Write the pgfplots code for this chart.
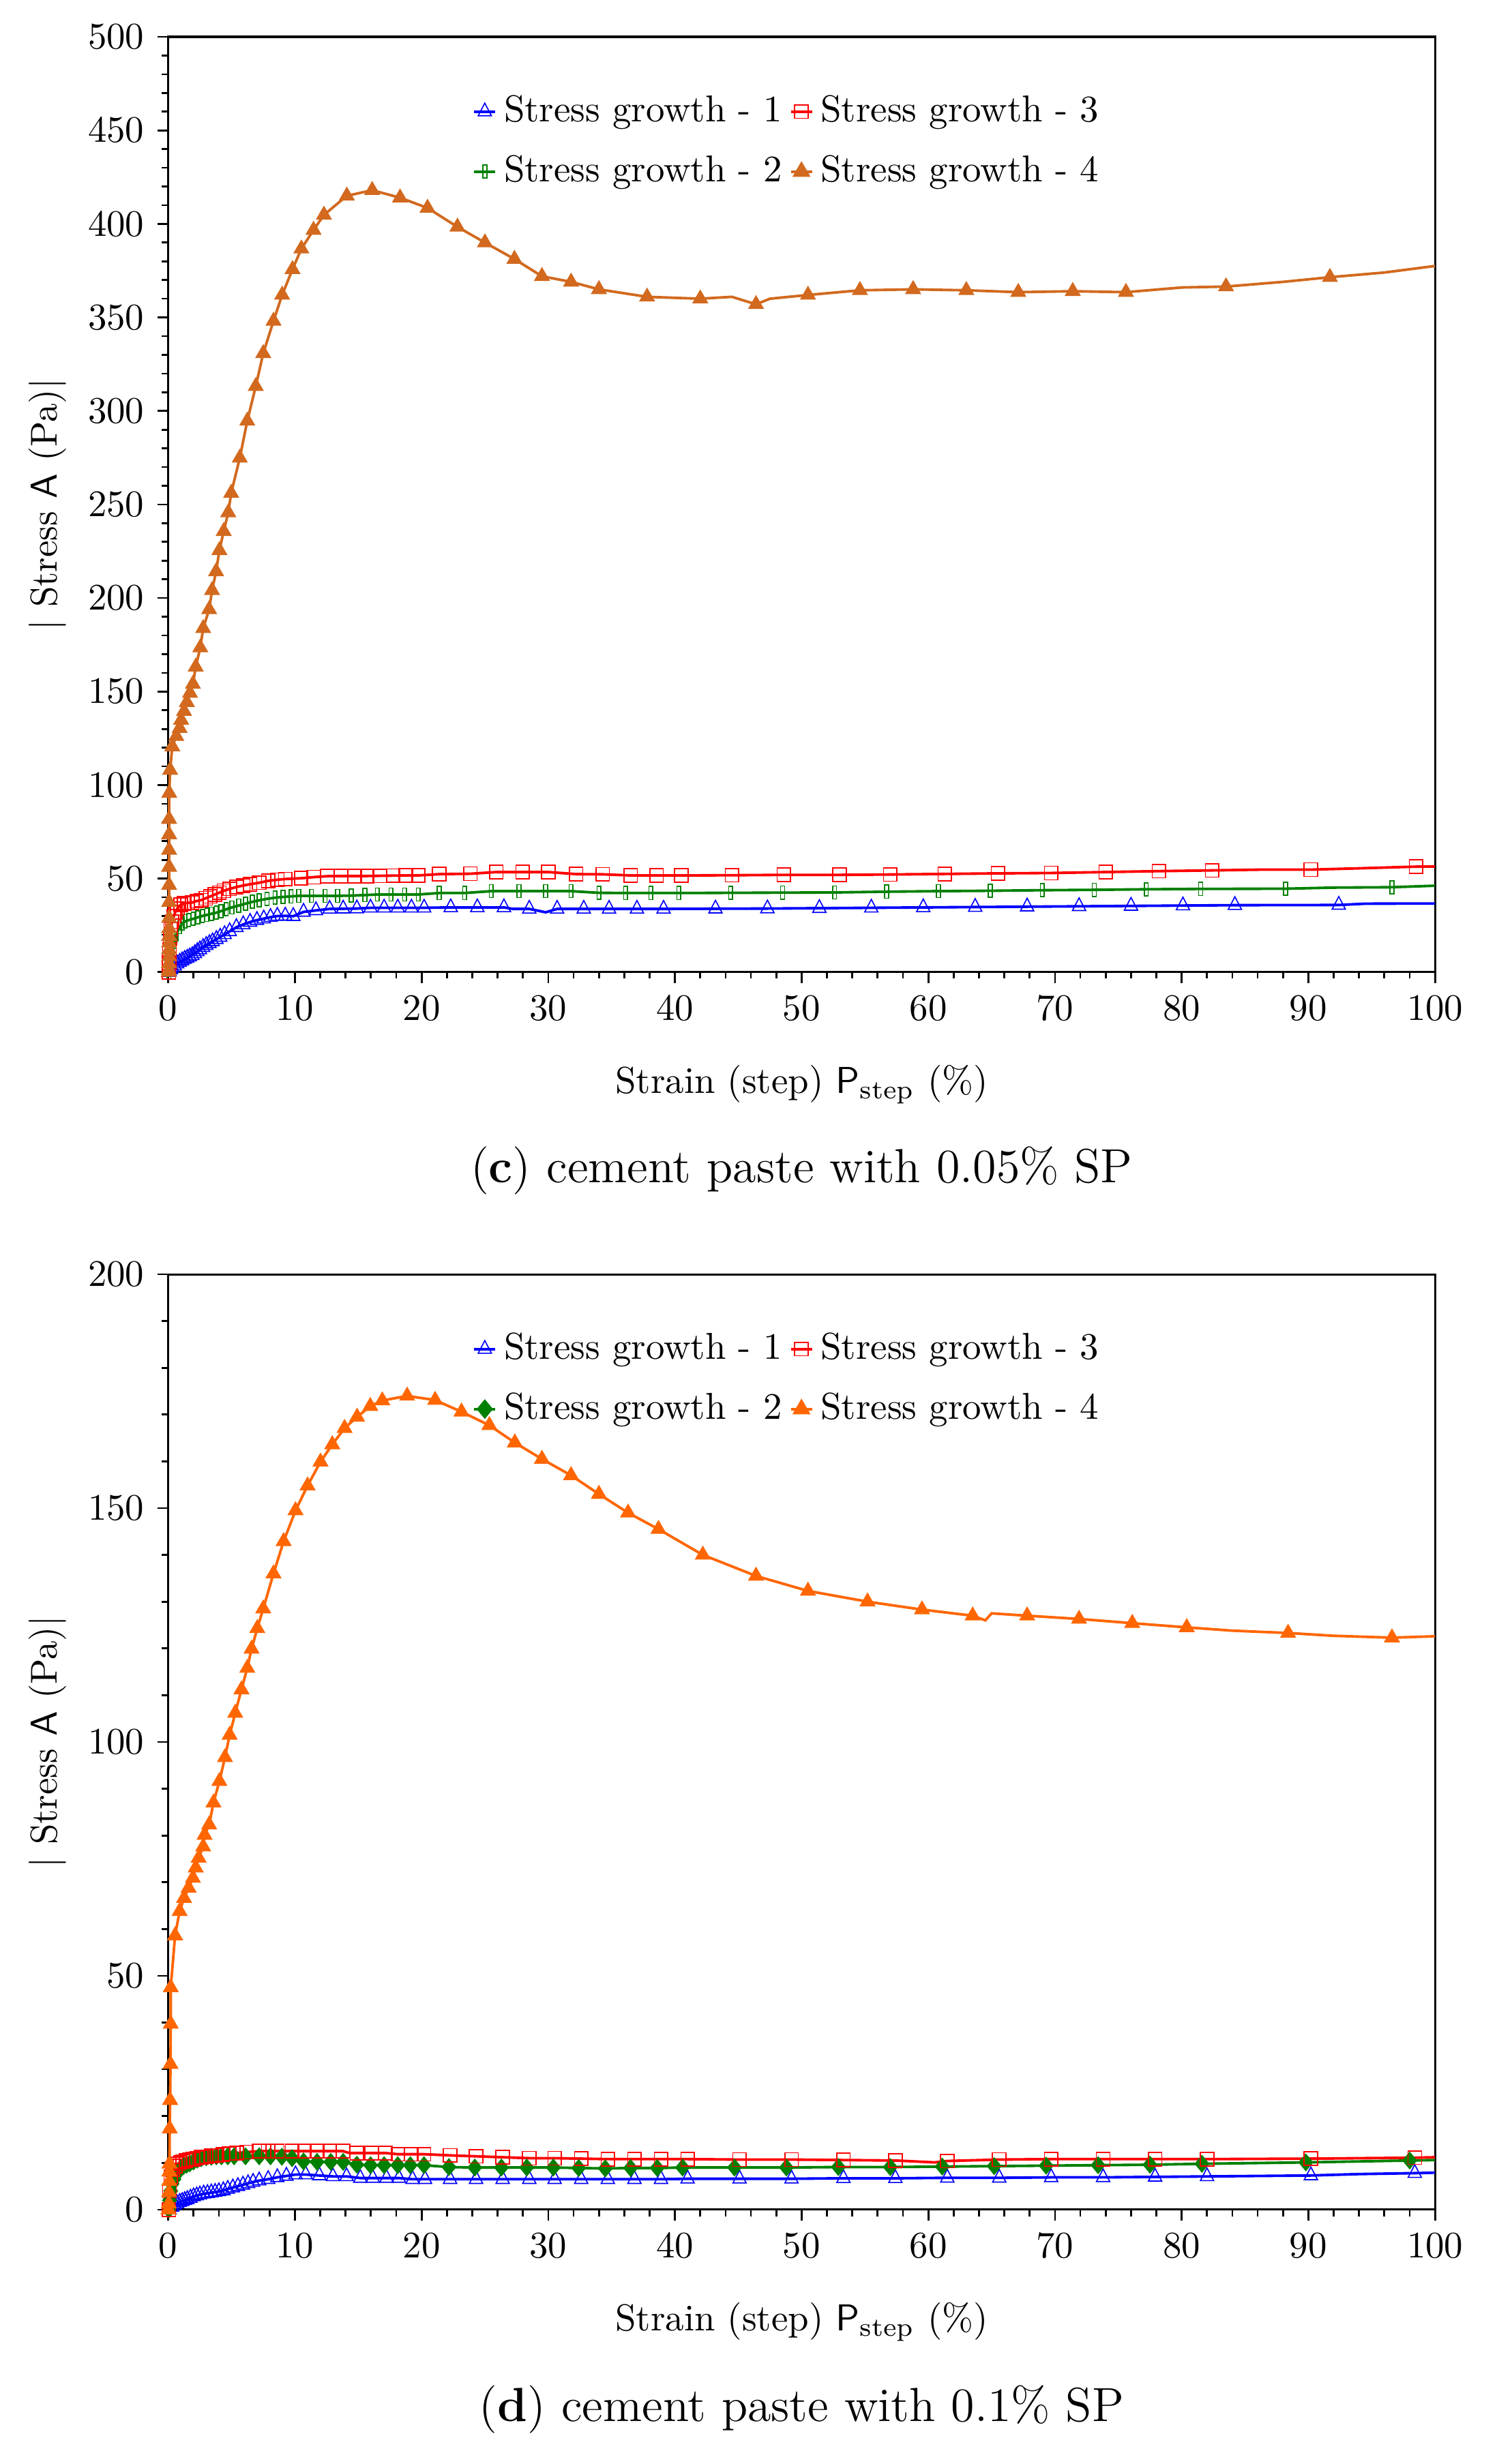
\documentclass[border=0pt]{standalone}
\usepackage{pgfplots}
\pgfplotsset{compat=1.18}
\usepackage{pgfplotstable}

\definecolor{sgblue}{RGB}{0,0,255}
\definecolor{sgred}{RGB}{255,0,0}
\definecolor{sggreen}{RGB}{0,128,0}
\definecolor{sgbrown}{RGB}{210,105,30}
\definecolor{sgorange}{RGB}{255,102,0}

% columns: strain, stress, m = 1 where the curve carries a marker
\pgfplotstableread{
x y m
0.05 0 1
0.1 0.5 1
0.2 1.5 1
0.3 2.5 1
0.5 3.5 1
0.7 4.6 1
0.9 5.4 1
1.1 6.2 1
1.3 7.0 1
1.5 7.6 1
1.7 8.3 1
1.9 9.0 1
2.1 10.0 1
2.3 11.1 1
2.5 12.1 1
2.75 13.3 1
3.0 14.4 1
3.25 15.4 1
3.5 16.4 1
3.8 17.6 1
4.1 18.8 1
4.45 20.2 1
4.85 21.8 1
5.38 24.0 1
5.92 25.5 1
6.46 26.8 1
7.0 27.8 1
7.54 28.6 1
8.07 29.4 1
8.61 30.0 1
9.24 30.1 1
9.87 29.9 1
10.68 32.2 1
11.66 33.0 1
12.74 33.8 1
13.81 33.9 1
14.89 34.0 1
15.97 34.4 1
17.04 34.4 1
18.12 34.4 1
19.2 34.4 1
20.2 34.4 1
22.3 34.6 1
24.4 34.6 1
26.5 34.6 1
27.2 33.8 0
28.5 33.8 1
29.8 32.0 0
30.7 33.8 1
32.8 33.8 1
34.8 33.8 1
37.0 33.8 1
39.1 33.8 1
43.2 33.9 1
47.3 34.0 1
51.4 34.2 1
55.5 34.4 1
59.6 34.6 1
63.7 34.8 1
67.8 35.0 1
71.9 35.2 1
76.0 35.4 1
80.1 35.6 1
84.2 35.8 1
92.4 35.9 1
94.5 36.6 0
100 36.7 0
}\topblue

\pgfplotstableread{
x y m
0.05 0 1
0.1 3 1
0.2 8 1
0.3 12 1
0.45 16 1
0.63 20 1
0.90 24 1
1.11 26 1
1.35 27.2 1
1.61 27.8 1
1.97 28.5 1
2.33 29.3 1
2.69 30.0 1
3.05 30.6 1
3.41 31.2 1
3.80 31.8 1
4.16 32.6 1
4.58 33.6 1
5.02 34.6 1
5.56 35.6 1
6.10 36.6 1
6.64 37.6 1
7.18 38.4 1
7.80 39.2 1
8.43 39.8 1
9.06 40.2 1
9.69 40.5 1
10.31 40.8 1
11.30 40.8 1
12.38 40.8 1
13.37 40.8 1
14.44 40.9 1
15.52 41.2 1
16.51 41.5 1
17.58 41.5 1
18.66 41.5 1
19.74 41.5 1
21.4 42.3 1
23.4 42.3 1
25.5 43.3 1
27.7 43.3 1
29.8 43.3 1
31.8 43.3 1
34.0 42.4 1
36.1 42.3 1
38.1 42.3 1
40.3 42.3 1
44.4 42.4 1
48.5 42.5 1
52.6 42.6 1
56.7 43.0 1
60.8 43.3 1
64.9 43.5 1
69.0 43.8 1
73.1 44.0 1
77.2 44.3 1
81.5 44.5 1
88.2 44.6 1
92.0 45.2 0
96.6 45.4 1
100 46.2 0
}\topgreen

\pgfplotstableread{
x y m
0.05 0 1
0.08 5 1
0.1 12 1
0.15 18 1
0.2 23 1
0.3 27 1
0.45 30 1
0.55 32 1
0.72 34 1
0.99 36 1
1.25 36.8 1
1.52 37.0 1
1.88 37.2 1
2.24 38.0 1
2.60 38.5 1
2.96 39.5 1
3.32 40.5 1
3.68 41.5 1
4.04 42.5 1
4.39 43.5 1
4.85 44.5 1
5.38 45.5 1
5.92 46.3 1
6.46 47.0 1
7.18 47.8 1
7.89 48.8 1
8.61 49.4 1
9.24 49.8 1
10.50 50.2 1
11.48 50.8 1
12.56 51.3 1
13.63 51.4 1
14.71 51.4 1
15.70 51.4 1
16.69 51.5 1
17.76 51.6 1
18.75 51.7 1
19.74 51.7 1
21.4 52.4 1
23.85 52.6 1
25.9 53.5 1
27.97 53.5 1
30.0 53.5 1
32.2 52.4 1
34.3 52.3 1
36.5 51.7 1
38.55 51.7 1
40.5 51.7 1
44.5 51.8 1
48.6 52.0 1
53.0 52.0 1
57.0 52.2 1
61.3 52.5 1
65.5 52.8 1
69.7 53.0 1
74.0 53.5 1
78.2 54.0 1
82.4 54.4 1
86.3 54.8 0
90.2 54.8 1
94.0 55.5 0
98.5 56.4 1
100 56.5 0
}\topred

\pgfplotstableread{
x y m
0.03 0 1
0.05 1 1
0.06 4.7 1
0.06 8.4 1
0.07 12 1
0.07 15.7 1
0.07 19.3 1
0.07 23.4 1
0.07 28.9 1
0.07 37.4 1
0.07 46.5 1
0.07 56.2 1
0.07 65.3 1
0.07 73.6 1
0.07 81.8 1
0.08 95.7 1
0.15 108 1
0.32 120.6 1
0.64 126.1 1
0.90 130.4 1
1.02 134.8 1
1.25 139.5 1
1.47 144.3 1
1.72 149.2 1
1.95 154 1
2.17 163.2 1
2.53 173.5 1
2.76 183.8 1
3.23 193.9 1
3.46 204.1 1
3.78 214.2 1
4.04 225.5 1
4.38 235.7 1
4.74 245.7 1
4.97 256.1 1
5.65 274.9 1
6.24 294.7 1
6.91 313.2 1
7.50 330.8 1
8.31 348.1 1
8.99 362 1
9.81 375.7 1
10.51 386.7 1
11.47 396.7 1
12.29 404.8 1
14.10 415 1
16.10 418 1
18.30 414 1
20.47 408.5 1
22.83 398.4 1
25.0 390 1
27.33 381.2 1
29.5 372 1
31.8 369 1
34.0 365 1
37.8 361 1
42.0 360 1
44.5 361 0
46.4 357 1
47.5 360 0
50.5 362 1
54.6 364.5 1
58.8 365 1
63.0 364.5 1
67.1 363.5 1
71.4 364 1
75.6 363.5 1
80.0 366 0
83.5 366.5 1
88.0 369 0
91.7 371.5 1
96.0 374 0
100 377.5 0
}\toporange

\pgfplotstableread{
x y m
0.1 0 1
0.3 0.6 1
0.5 1.0 1
0.7 1.3 1
0.9 1.6 1
1.1 1.8 1
1.3 2.0 1
1.5 2.2 1
1.75 2.5 1
2.0 2.8 1
2.25 3.0 1
2.5 3.2 1
2.8 3.4 1
3.1 3.5 1
3.4 3.65 1
3.7 3.75 1
4.0 3.9 1
4.35 4.1 1
4.7 4.4 1
5.1 4.7 1
5.5 5.0 1
5.9 5.3 1
6.3 5.6 1
6.7 5.9 1
7.18 6.2 1
7.89 6.5 1
8.61 6.9 1
9.33 7.2 1
10.05 7.5 1
10.85 7.5 1
11.93 7.3 1
13.0 7.1 1
14.08 7.1 1
15.16 6.75 1
16.15 6.75 1
17.23 6.75 1
18.21 6.75 1
19.29 6.5 1
20.27 6.5 1
22.25 6.5 1
24.3 6.5 1
26.4 6.5 1
28.5 6.5 1
30.5 6.5 1
32.6 6.5 1
34.7 6.5 1
36.8 6.5 1
38.9 6.5 1
41.0 6.6 1
45.1 6.6 1
49.2 6.6 1
53.3 6.7 1
57.4 6.7 1
61.5 6.8 1
65.6 6.8 1
69.7 6.9 1
73.8 6.9 1
77.9 7.0 1
82.0 7.1 1
90.2 7.3 1
94.0 7.6 0
98.4 7.8 1
100 7.9 0
}\botblue

\pgfplotstableread{
x y m
0.05 0 1
0.1 2 1
0.2 4 1
0.3 5.5 1
0.45 6.5 1
0.6 7.5 1
0.8 8.3 1
1.0 8.8 1
1.2 9.3 1
1.45 9.6 1
1.7 9.9 1
2.0 10.3 1
2.3 10.7 1
2.6 11.0 1
3.0 11.2 1
3.4 11.3 1
3.8 11.4 1
4.2 11.4 1
4.7 11.4 1
5.2 11.4 1
6.1 11.4 1
7.18 11.4 1
8.07 11.4 1
8.97 11.3 1
9.78 11.0 1
10.68 10.3 1
11.75 10.2 1
12.83 10.2 1
13.81 10.2 1
14.89 9.6 1
15.97 9.5 1
17.04 9.5 1
18.12 9.5 1
19.11 9.5 1
20.19 9.5 1
22.16 9.1 1
24.2 9.0 1
26.3 9.0 1
28.3 9.0 1
30.4 9.0 1
32.4 8.9 1
34.5 8.8 1
36.5 8.9 1
38.6 8.9 1
40.6 9.0 1
44.7 9.0 1
48.8 9.0 1
52.9 9.1 1
57.0 9.1 1
61.1 9.2 1
65.2 9.3 1
69.3 9.4 1
73.4 9.5 1
77.5 9.6 1
81.6 9.8 1
89.8 10.1 1
98.0 10.5 1
100 10.6 0
}\botgreen

\pgfplotstableread{
x y m
0.05 0 1
0.1 4 1
0.2 7 1
0.35 8.5 1
0.55 9.3 1
0.75 9.8 1
0.95 10.1 1
1.15 10.3 1
1.4 10.5 1
1.65 10.7 1
1.95 10.8 1
2.25 11.0 1
2.6 11.2 1
3.0 11.3 1
3.4 11.5 1
3.85 11.6 1
4.3 11.8 1
4.8 12.0 1
5.4 12.1 1
6.19 12.3 1
7.18 12.5 1
7.89 12.5 1
8.61 12.5 1
9.78 12.5 1
10.77 12.5 1
11.75 12.5 1
12.74 12.5 1
13.81 12.5 1
14.3 12.1 0
14.89 12.1 1
16.06 12.1 1
17.13 12.1 1
18.12 11.85 1
19.2 11.85 1
20.19 11.85 1
22.25 11.6 1
24.3 11.4 1
26.4 11.2 1
28.5 11.0 1
30.5 11.0 1
32.6 10.9 1
34.7 10.8 1
36.8 10.8 1
38.9 10.8 1
41.0 10.8 1
45.1 10.7 1
49.2 10.7 1
53.3 10.6 1
57.4 10.5 1
60.5 10.1 0
61.5 10.4 1
65.6 10.7 1
69.7 10.8 1
73.8 10.8 1
77.9 10.8 1
82.0 10.8 1
90.2 10.9 1
98.4 11.1 1
100 11.2 0
}\botred

\pgfplotstableread{
x y m
0.02 0 1
0.05 1.3 1
0.07 3.7 1
0.08 6.1 1
0.09 8.1 1
0.1 9.8 1
0.12 17.3 1
0.15 23.4 1
0.18 31.1 1
0.2 39.7 1
0.2 47.5 1
0.54 58.6 1
0.90 63.8 1
1.25 66.6 1
1.61 68.8 1
1.95 70.9 1
2.17 73.1 1
2.40 75.2 1
2.76 77.6 1
2.87 80.1 1
3.23 82.3 1
3.57 87 1
4.04 91.6 1
4.48 96.7 1
4.85 101.5 1
5.29 106.2 1
5.78 111.2 1
6.24 115.8 1
6.58 119.9 1
7.03 124.3 1
7.50 128.5 1
8.31 136 1
9.11 142.9 1
10.05 149.5 1
11.0 154.8 1
12.02 159.9 1
12.95 163.6 1
13.92 167.1 1
14.91 169.5 1
15.95 171.8 1
16.9 173 1
18.86 174 1
21.07 173.1 1
23.15 170.6 1
25.35 167.7 1
27.36 164 1
29.5 160.5 1
31.8 157 1
34.0 153 1
36.3 149 1
38.7 145.5 1
42.2 140 1
46.4 135.5 1
50.5 132.3 1
55.2 130 1
59.5 128.3 1
63.5 127 1
64.5 126 0
65.0 127.5 0
67.8 127 1
71.9 126.3 1
76.1 125.4 1
80.4 124.5 1
84.0 123.8 0
88.4 123.3 1
92.0 122.7 0
96.6 122.3 1
100 122.6 0
}\botorange

\pgfplotsset{
  sgaxis/.style={
    scale only axis, width=338.5pt, height=250pt,
    xmin=0, xmax=100, ymin=0,
    xtick={0,10,...,100},
    minor x tick num=4, minor y tick num=4,
    tick align=outside, tick pos=left,
    major tick length=2.9pt, minor tick length=1.75pt,
    tick style={black, line width=0.5pt},
    axis line style={line width=0.55pt},
    clip=false,
    xlabel={Strain (step)\ \textsf{P}\textsubscript{step}\ (\%)},
    ylabel={| Stress \textsf{A} (Pa)|},
    xlabel style={at={(axis description cs:0.5,-0.12)}, anchor=center},
    ylabel style={at={(axis description cs:-0.095,0.5)}, anchor=center},
    legend columns=2, legend cell align=left,
    legend style={draw=none, fill=none, inner sep=0pt, row sep=3.5pt,
      at={(axis description cs:0.24,0.946)}, anchor=north west},
    legend image code/.code={
      \draw[mark repeat=2,mark phase=2] plot coordinates {(0pt,0pt) (2.8pt,0pt) (5.6pt,0pt)};},
  },
  sgline/.style={line width=0.7pt},
}

% one curve: the line through every point, the marks only where m = 1
\newcommand{\sgcurve}[3]{%
  \addplot[#1, sgline, no marks, forget plot] table[x=x, y=y] {#3};
  \addplot[#1, only marks, #2, forget plot] table[x=x, y expr={\thisrow{m}>0 ? \thisrow{y} : nan}] {#3};
}

\begin{document}
\begin{tikzpicture}
\useasboundingbox (0,0) rectangle (400pt,-658.6pt);

\begin{axis}[sgaxis, name=top, at={(44.95pt,-9.84pt)}, anchor=north west,
  ymax=500, ytick={0,50,...,500}]
  \sgcurve{sgblue}{mark=triangle, mark size=2.05pt, mark options={solid, line width=0.3pt, yscale=1.1}}{\topblue}
  \sgcurve{sggreen}{mark=square, mark size=1.75pt, mark options={solid, line width=0.3pt, xscale=0.3}}{\topgreen}
  \sgcurve{sgred}{mark=square, mark size=1.8pt, mark options={solid, line width=0.3pt}}{\topred}
  \sgcurve{sgbrown}{mark=triangle*, mark size=2.1pt, mark options={solid}}{\toporange}
  \addlegendimage{sgblue, sgline, mark=triangle, mark size=2.05pt, mark options={solid, line width=0.3pt, yscale=1.1}}
  \addlegendentry{Stress growth - 1}
  \addlegendimage{sgred, sgline, mark=square, mark size=1.8pt, mark options={solid, line width=0.3pt}}
  \addlegendentry{Stress growth - 3}
  \addlegendimage{sggreen, sgline, mark=square, mark size=1.75pt, mark options={solid, line width=0.3pt, xscale=0.3}}
  \addlegendentry{Stress growth - 2}
  \addlegendimage{sgbrown, sgline, mark=triangle*, mark size=2.1pt}
  \addlegendentry{Stress growth - 4}
\end{axis}
\node[font=\fontsize{12.8}{15}\selectfont] at ([yshift=-53.1pt]top.south) {(\textbf{c}) cement paste with 0.05\% SP};

\begin{axis}[sgaxis, name=bot, at={(44.95pt,-340.6pt)}, anchor=north west,
  ymax=200, ytick={0,50,...,200}]
  \sgcurve{sgblue}{mark=triangle, mark size=2.05pt, mark options={solid, line width=0.3pt, yscale=1.1}}{\botblue}
  \sgcurve{sggreen}{mark=diamond*, mark size=2.1pt, mark options={solid, xscale=1.1}}{\botgreen}
  \sgcurve{sgred}{mark=square, mark size=1.8pt, mark options={solid, line width=0.3pt}}{\botred}
  \sgcurve{sgorange}{mark=triangle*, mark size=2.1pt, mark options={solid}}{\botorange}
  \addlegendimage{sgblue, sgline, mark=triangle, mark size=2.05pt, mark options={solid, line width=0.3pt, yscale=1.1}}
  \addlegendentry{Stress growth - 1}
  \addlegendimage{sgred, sgline, mark=square, mark size=1.8pt, mark options={solid, line width=0.3pt}}
  \addlegendentry{Stress growth - 3}
  \addlegendimage{sggreen, sgline, mark=diamond*, mark size=2.1pt, mark options={solid, xscale=1.1}}
  \addlegendentry{Stress growth - 2}
  \addlegendimage{sgorange, sgline, mark=triangle*, mark size=2.1pt}
  \addlegendentry{Stress growth - 4}
\end{axis}
\node[font=\fontsize{12.8}{15}\selectfont] at ([yshift=-53.4pt]bot.south) {(\textbf{d}) cement paste with 0.1\% SP};
\end{tikzpicture}
\end{document}
